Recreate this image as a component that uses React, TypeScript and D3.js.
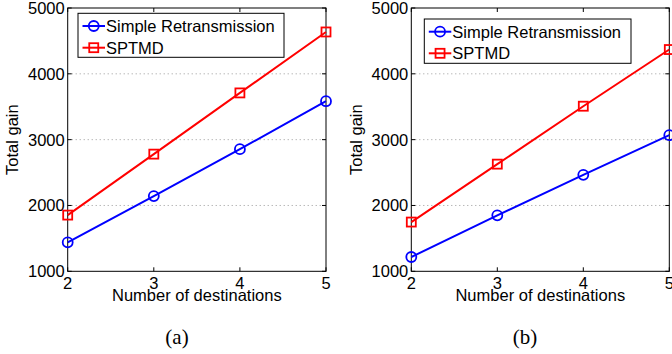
import React from "react";
import * as d3 from "d3";

const destinations = [2, 3, 4, 5];
const yTicks = [1000, 2000, 3000, 4000, 5000];
const seriesNames = ["Simple Retransmission", "SPTMD"];
const seriesColors = ["#0000ff", "#ff0000"];

const panelA_simple = [1440, 2143, 2856, 3584];
const panelA_sptmd = [1854, 2780, 3710, 4636];
const panelB_simple = [1217, 1850, 2466, 3068];
const panelB_sptmd = [1748, 2628, 3508, 4369];

const FONT = "'Liberation Sans', Arial, Helvetica, sans-serif";

type PanelProps = {
  left: number;
  right: number;
  simple: number[];
  sptmd: number[];
  legend: { x0: number; x1: number; y0: number; y1: number; r1: number; r2: number };
  caption: string;
  captionX: number;
};

function Panel({ left, right, simple, sptmd, legend, caption, captionX }: PanelProps) {
  const top = 8;
  const bottom = 271.3;
  const x = d3.scaleLinear().domain([2, 5]).range([left, right]);
  const y = d3.scaleLinear().domain([1000, 5000]).range([bottom, top]);
  const line = d3
    .line<number>()
    .x((_, i) => x(destinations[i]))
    .y((d) => y(d));
  const series = [simple, sptmd];
  const fs = 16.5;
  return (
    <g>
      {yTicks.slice(1, -1).map((t) => (
        <line
          key={"g" + t}
          x1={left}
          x2={right}
          y1={y(t)}
          y2={y(t)}
          stroke="#999"
          strokeWidth={1}
          strokeDasharray="1,3"
        />
      ))}
      {yTicks.map((t) => (
        <g key={"yt" + t}>
          <line x1={left} x2={left + 4} y1={y(t)} y2={y(t)} stroke="#000" />
          <line x1={right} x2={right - 4} y1={y(t)} y2={y(t)} stroke="#000" />
          <text
            x={left - 3}
            y={y(t)}
            textAnchor="end"
            dominantBaseline="central"
            fontFamily={FONT}
            fontSize={fs}
          >
            {t}
          </text>
        </g>
      ))}
      {destinations.map((d) => (
        <g key={"xt" + d}>
          <line x1={x(d)} x2={x(d)} y1={bottom} y2={bottom - 4} stroke="#000" />
          <line x1={x(d)} x2={x(d)} y1={top} y2={top + 4} stroke="#000" />
          <text
            x={x(d)}
            y={288.5}
            textAnchor="middle"
            fontFamily={FONT}
            fontSize={fs}
          >
            {d}
          </text>
        </g>
      ))}
      <rect
        x={left}
        y={top}
        width={right - left}
        height={bottom - top}
        fill="none"
        stroke="#000"
        strokeWidth={1}
      />
      {series.map((s, si) => (
        <g key={"s" + si}>
          <path d={line(s) || ""} fill="none" stroke={seriesColors[si]} strokeWidth={2} />
          {s.map((v, i) =>
            si === 0 ? (
              <circle
                key={i}
                cx={x(destinations[i])}
                cy={y(v)}
                r={5}
                fill="none"
                stroke={seriesColors[si]}
                strokeWidth={1.8}
              />
            ) : (
              <rect
                key={i}
                x={x(destinations[i]) - 4.5}
                y={y(v) - 4.5}
                width={9}
                height={9}
                fill="none"
                stroke={seriesColors[si]}
                strokeWidth={1.8}
              />
            )
          )}
        </g>
      ))}
      <rect
        x={legend.x0}
        y={legend.y0}
        width={legend.x1 - legend.x0}
        height={legend.y1 - legend.y0}
        fill="#fff"
        stroke="#000"
        strokeWidth={1}
      />
      {seriesNames.map((name, si) => {
        const ry = si === 0 ? legend.r1 : legend.r2;
        const lx0 = legend.x0 + 4.5;
        const lx1 = lx0 + 22.5;
        const cx = (lx0 + lx1) / 2;
        return (
          <g key={"l" + si}>
            <line x1={lx0} x2={lx1} y1={ry} y2={ry} stroke={seriesColors[si]} strokeWidth={2} />
            {si === 0 ? (
              <circle cx={cx} cy={ry} r={5} fill="none" stroke={seriesColors[si]} strokeWidth={1.8} />
            ) : (
              <rect
                x={cx - 4.5}
                y={ry - 4.5}
                width={9}
                height={9}
                fill="none"
                stroke={seriesColors[si]}
                strokeWidth={1.8}
              />
            )}
            <text
              x={lx1 + 1}
              y={ry}
              dominantBaseline="central"
              fontFamily={FONT}
              fontSize={fs}
            >
              {name}
            </text>
          </g>
        );
      })}
      <text
        x={(left + right) / 2}
        y={301}
        textAnchor="middle"
        fontFamily={FONT}
        fontSize={fs}
      >
        Number of destinations
      </text>
      <text
        transform={`translate(${left - 49.4},${(top + bottom) / 2}) rotate(-90)`}
        textAnchor="middle"
        fontFamily={FONT}
        fontSize={fs}
      >
        Total gain
      </text>
      <text
        x={captionX}
        y={344}
        textAnchor="middle"
        fontFamily="'Liberation Serif', 'Times New Roman', serif"
        fontSize={21}
      >
        {caption}
      </text>
    </g>
  );
}

export default function App() {
  return (
    <svg
      width={672}
      height={354}
      style={{ position: "absolute", left: 0, top: 0, background: "#fff" }}
    >
      <rect width={672} height={354} fill="#fff" />
      <Panel
        left={67.7}
        right={326}
        simple={panelA_simple}
        sptmd={panelA_sptmd}
        legend={{ x0: 78, x1: 284, y0: 13.3, y1: 57.3, r1: 26, r2: 47.7 }}
        caption="(a)"
        captionX={177}
      />
      <Panel
        left={411.3}
        right={669.3}
        simple={panelB_simple}
        sptmd={panelB_sptmd}
        legend={{ x0: 424.3, x1: 631, y0: 19, y1: 63.3, r1: 31.7, r2: 53.3 }}
        caption="(b)"
        captionX={525}
      />
    </svg>
  );
}
